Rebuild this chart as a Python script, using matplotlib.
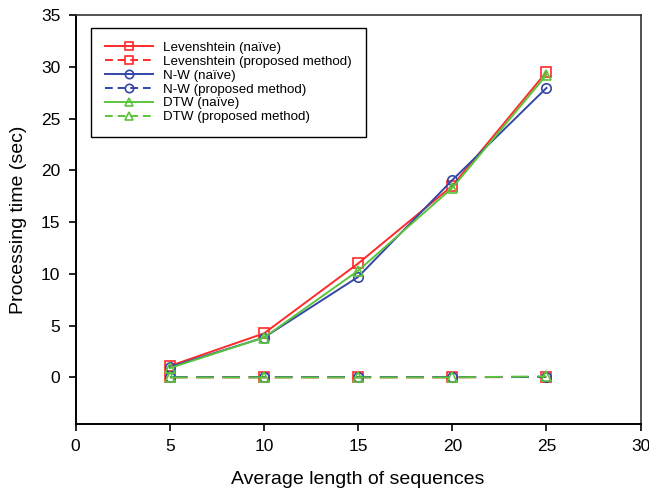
import matplotlib
matplotlib.use('Agg')
import matplotlib.pyplot as plt

plt.rcParams['font.family'] = ['Liberation Sans', 'DejaVu Sans']

# average length of sequences
lengths = [5, 10, 15, 20, 25]

# processing time (sec)
lev_naive = [1.1, 4.25, 11.0, 18.5, 29.5]
lev_prop = [0.0, 0.0, 0.0, 0.0, 0.05]
nw_naive = [1.0, 3.85, 9.7, 19.05, 27.95]
nw_prop = [0.0, 0.0, 0.0, 0.0, 0.0]
dtw_naive = [0.9, 3.85, 10.3, 18.3, 29.2]
dtw_prop = [0.0, 0.0, 0.0, 0.0, 0.1]

red = '#ff2a2a'
blue = '#3446a8'
green = '#5cc43c'

fig = plt.figure(figsize=(6.49, 4.93), dpi=100)
ax = fig.add_axes([0.1166, 0.14, 0.8704, 0.8296])

mk = dict(markersize=6.8, markerfacecolor='none', markeredgewidth=1.2, linewidth=1.4)
dash = (0, (9, 4.5))

ax.plot(lengths, lev_naive, color=red, marker='s', label='Levenshtein (naïve)', **mk)
ax.plot(lengths, lev_prop, color=red, marker='s', linestyle=dash, label='Levenshtein (proposed method)', **mk)
ax.plot(lengths, nw_naive, color=blue, marker='o', label='N-W (naïve)', **mk)
ax.plot(lengths, nw_prop, color=blue, marker='o', linestyle=dash, label='N-W (proposed method)', **mk)
ax.plot(lengths, dtw_naive, color=green, marker='^', label='DTW (naïve)', **mk)
ax.plot(lengths, dtw_prop, color=green, marker='^', linestyle=dash, label='DTW (proposed method)', **mk)

ax.set_xlim(0, 30)
ax.set_ylim(-4.5, 35)
ax.set_xticks([0, 5, 10, 15, 20, 25, 30])
ax.set_yticks([0, 5, 10, 15, 20, 25, 30, 35])
ax.tick_params(direction='out', length=5, width=1.2, labelsize=12.5, pad=6)

ax.set_xlabel('Average length of sequences', fontsize=14, labelpad=12)
ax.set_ylabel('Processing time (sec)', fontsize=14, labelpad=10)

for side in ['left', 'bottom']:
    ax.spines[side].set_linewidth(1.4)
for side in ['top', 'right']:
    ax.spines[side].set_linewidth(1.2)
    ax.spines[side].set_color('#333333')

leg = ax.legend(loc='upper left', bbox_to_anchor=(0.028, 0.968), fontsize=9.6,
                frameon=True, fancybox=False, edgecolor='black', framealpha=1,
                handlelength=3.6, labelspacing=0.12, borderpad=1.0,
                handletextpad=0.8, borderaxespad=0)
leg.get_frame().set_linewidth(1.0)
for i, h in enumerate(leg.legend_handles):
    h.set_markersize(6)
    if i % 2 == 1:
        h.set_linestyle((0, (4, 2.5)))

fig.savefig('out.png', dpi=100)
